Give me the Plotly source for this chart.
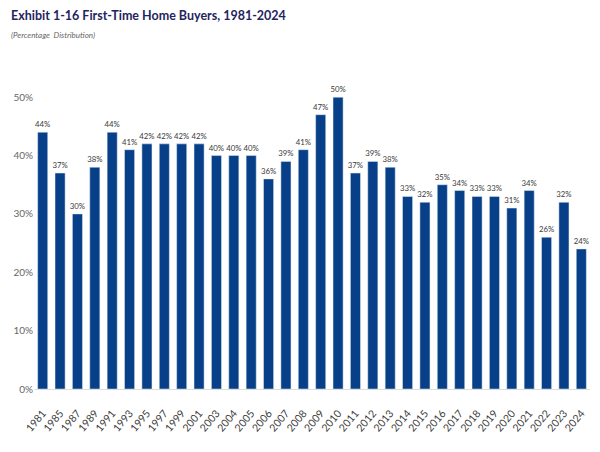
import plotly.graph_objects as go

# survey years and share of first-time buyers
years = ["1981", "1985", "1987", "1989", "1991", "1993", "1995", "1997", "1999",
         "2001", "2003", "2004", "2005", "2006", "2007", "2008", "2009", "2010",
         "2011", "2012", "2013", "2014", "2015", "2016", "2017", "2018", "2019",
         "2020", "2021", "2022", "2023", "2024"]
share = [44, 37, 30, 38, 44, 41, 42, 42, 42, 42, 40, 40, 40, 36, 39, 41, 47, 50,
         37, 39, 38, 33, 32, 35, 34, 33, 33, 31, 34, 26, 32, 24]
y_ticks = [0, 10, 20, 30, 40, 50]

fig = go.Figure(
    go.Bar(
        x=years,
        y=share,
        marker_color="#073F88",
        text=[f"{v}%" for v in share],
        textposition="outside",
        constraintext="none",
        textfont=dict(size=7.8, color="#3A3A3A"),
        cliponaxis=False,
    )
)

# page has an 8px body margin, so the figure is 8px smaller each way
fig.update_layout(
    width=592,
    height=444,
    plot_bgcolor="white",
    paper_bgcolor="white",
    bargap=0.42,
    showlegend=False,
    font=dict(family="Lato, Open Sans, sans-serif"),
    margin=dict(l=26, r=10, t=60, b=63, autoexpand=False),
    annotations=[
        dict(text="<b>Exhibit 1-16 First-Time Home Buyers, 1981-2024</b>",
             x=0, y=1, xref="paper", yref="paper", xanchor="left", yanchor="middle",
             showarrow=False, font=dict(size=12.5, color="#1F2460"), xshift=-25, yshift=53),
        dict(text="<i>(Percentage  Distribution)</i>",
             x=0, y=1, xref="paper", yref="paper", xanchor="left", yanchor="middle",
             showarrow=False, font=dict(size=8, color="#666666"), xshift=-25, yshift=33),
    ],
)
fig.update_xaxes(
    tickangle=-50,
    tickfont=dict(size=10.5, color="#3A3A3A"),
    ticklabelstandoff=13,
    showgrid=False,
    showline=True,
    linecolor="#DDDDDD",
    linewidth=1,
    ticks="",
    automargin=False,
)
fig.update_yaxes(
    range=[0, 55],
    tickvals=y_ticks,
    ticktext=[f"{t}%" for t in y_ticks],
    tickfont=dict(size=10, color="#666666"),
    showgrid=False,
    zeroline=False,
    ticks="",
    automargin=False,
)

fig.write_html("out.html")
